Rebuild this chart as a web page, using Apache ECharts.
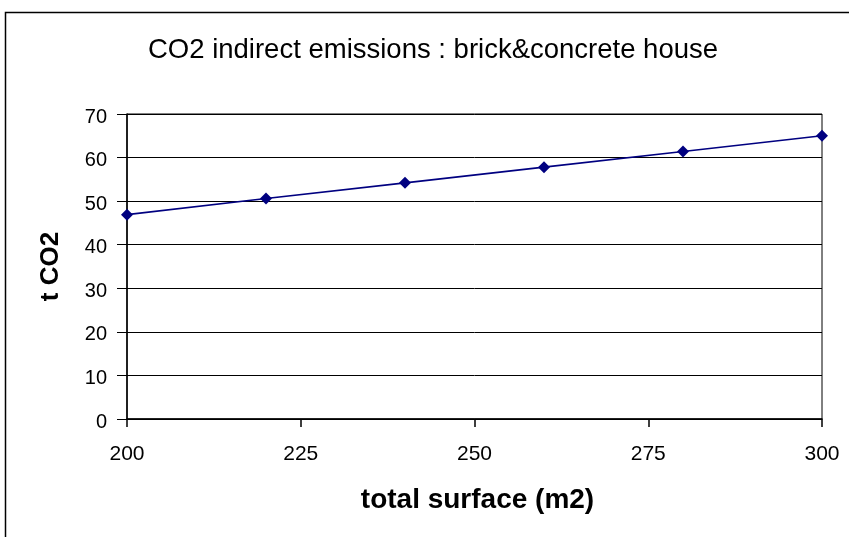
<!DOCTYPE html>
<html>
<head>
<meta charset="utf-8">
<script src="https://cdn.jsdelivr.net/npm/echarts@6/dist/echarts.min.js"></script>
<style>
  html, body { margin: 0; padding: 0; background: #fff; }
  #chart { width: 849px; height: 537px; }
</style>
</head>
<body>
<div id="chart"></div>
<script>
// Total floor surface (m2) and the matching indirect CO2 emissions (t)
const surfaces = [200, 220, 240, 260, 280, 300];
const emissions = [46.9, 50.6, 54.2, 57.8, 61.4, 65.0];
const xTicks = [200, 225, 250, 275, 300];
const yTicks = [0, 10, 20, 30, 40, 50, 60, 70];

const FONT = '"Liberation Sans", Arial, sans-serif';

const chart = echarts.init(document.getElementById('chart'), null, { renderer: 'canvas' });

chart.setOption({
  backgroundColor: '#ffffff',
  animation: false,
  title: {
    text: 'CO2 indirect emissions : brick&concrete house',
    left: 428,
    top: 31,
    textAlign: 'center',
    textStyle: { fontFamily: FONT, fontSize: 27.5, fontWeight: 'normal', color: '#000' }
  },
  graphic: [
    {
      type: 'rect',
      shape: { x: 5.5, y: 12.5, width: 900, height: 600 },
      style: { fill: 'none', stroke: '#000', lineWidth: 1.5 },
      silent: true
    }
  ],
  grid: { left: 127, right: 27, top: 114, bottom: 118, containLabel: false, show: true, borderColor: '#000', borderWidth: 1 },
  xAxis: {
    type: 'value',
    min: xTicks[0],
    max: xTicks[xTicks.length - 1],
    interval: xTicks[1] - xTicks[0],
    name: 'total surface (m2)',
    nameLocation: 'middle',
    nameGap: 67,
    nameTextStyle: { fontFamily: FONT, fontSize: 28, fontWeight: 'bold', color: '#000', padding: [0, 0, 0, 6] },
    axisLine: { show: true, lineStyle: { color: '#000', width: 1.5 } },
    axisTick: { show: true, inside: false, length: 8, lineStyle: { color: '#000', width: 1.5 } },
    axisLabel: { fontFamily: FONT, fontSize: 21, color: '#000', margin: 25 },
    splitLine: { show: false }
  },
  yAxis: {
    type: 'value',
    min: yTicks[0],
    max: yTicks[yTicks.length - 1],
    interval: yTicks[1] - yTicks[0],
    name: 't CO2',
    nameLocation: 'middle',
    nameGap: 63,
    nameRotate: 90,
    nameTextStyle: { fontFamily: FONT, fontSize: 26, fontWeight: 'bold', color: '#000' },
    axisLine: { show: true, lineStyle: { color: '#000', width: 1.5 } },
    axisTick: { show: true, inside: false, length: 10, lineStyle: { color: '#000', width: 1 } },
    axisLabel: { fontFamily: FONT, fontSize: 20, color: '#000', margin: 20, verticalAlign: 'top', lineHeight: 6 },
    splitLine: { show: true, lineStyle: { color: '#000', width: 1 } }
  },
  series: [
    {
      type: 'line',
      data: surfaces.map((s, i) => [s, emissions[i]]),
      symbol: 'diamond',
      symbolSize: 12,
      showAllSymbol: true,
      lineStyle: { color: '#000080', width: 1.6 },
      itemStyle: { color: '#000080' },
      clip: false
    }
  ]
});
</script>
</body>
</html>
